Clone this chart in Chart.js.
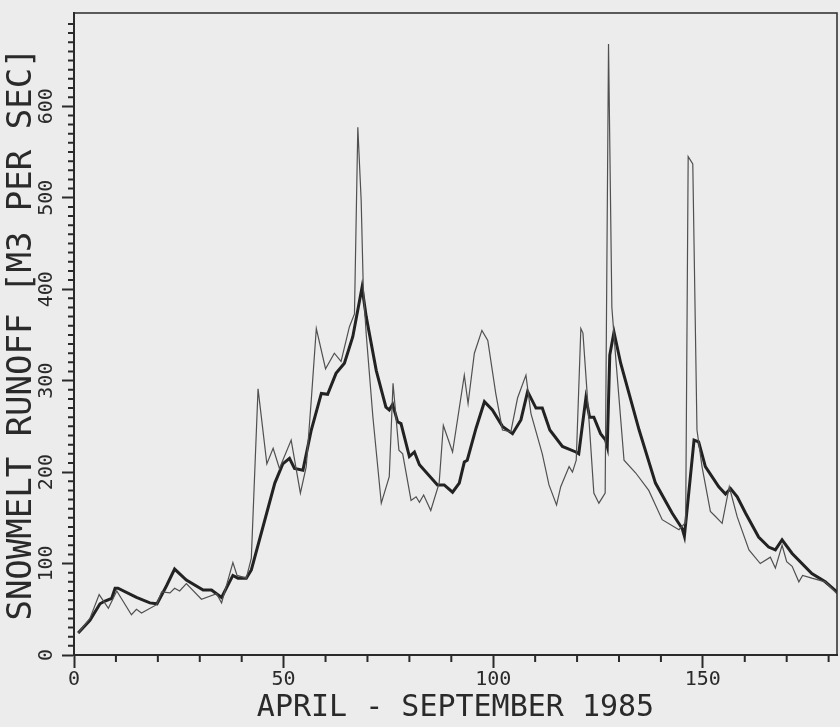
<!DOCTYPE html>
<html>
<head>
<meta charset="utf-8">
<title>Snowmelt runoff 1985</title>
<script src="https://cdn.jsdelivr.net/npm/chart.js@4.4.1/dist/chart.umd.min.js"></script>
<style>
  html, body { margin: 0; padding: 0; background: #ececec; }
  canvas { display: block; }
</style>
</head>
<body>
<canvas id="runoff" width="840" height="727"></canvas>
<script>
// thin line: day of season / runoff (m3/s)
const thinDays = [1, 3.8, 6.0, 8.2, 10.2, 13.7, 14.9, 16.1, 19.7, 20.9, 22.9, 24.0, 25.2, 26.8, 30.4, 34.0, 35.2, 37.9, 38.9, 41.1,
  42.3, 43.9, 46.0, 47.5, 49.0, 51.8, 54.0, 55.4, 56.6, 57.8, 60.0, 62.1, 63.7, 65.7, 66.9, 67.7, 68.5, 69.0, 69.7, 71.3,
  73.3, 75.2, 76.1, 77.5, 78.4, 80.4, 81.6, 82.4, 83.4, 85.1, 87.1, 88.1, 90.3, 93.1, 94.0, 95.5, 97.3, 98.7, 100.6, 102.2,
  104.2, 105.8, 107.8, 109.0, 111.7, 113.3, 115.1, 116.1, 118.1, 118.9, 119.8, 120.9, 121.4, 122.9, 124.0, 125.2, 126.7, 127.5, 128.3, 129.2,
  131.2, 134.0, 137.1, 140.3, 144.3, 145.9, 146.5, 147.6, 148.6, 149.8, 151.8, 152.9, 154.6, 156.3, 158.2, 161.0, 163.7, 166.1, 167.3, 168.9,
  170.0, 171.3, 172.9, 173.8, 176.0, 179.2, 182];
const thinFlow = [24, 40, 66, 51, 70, 44, 50, 46, 55, 69, 68, 73, 70, 78, 61, 67, 57, 101, 87, 84,
  106, 291, 209, 226, 204, 235, 177, 206, 279, 357, 313, 330, 321, 359, 373, 577, 497, 402, 351, 260,
  166, 195, 297, 224, 220, 169, 173, 167, 175, 158, 188, 251, 222, 306, 275, 330, 355, 344, 286, 246,
  244, 281, 306, 264, 220, 186, 164, 184, 206, 200, 213, 357, 352, 253, 177, 166, 177, 668, 380, 326,
  213, 199, 180, 148, 137, 145, 545, 537, 246, 206, 157, 152, 144, 184, 151, 115, 100, 107, 95, 120,
  102, 97, 80, 87, 84, 80, 67];

// thick line
const thickDays = [1, 3.8, 6.2, 7.4, 9.0, 9.8, 10.5, 14.9, 18.1, 19.8, 22.1, 24.0, 26.8, 30.8, 32.8, 35.2, 37.9, 39.1, 41.1, 42.3,
  47.9, 49.8, 51.4, 52.6, 54.6, 56.6, 59.0, 60.5, 62.5, 64.5, 66.5, 68.7, 69.7, 72.1, 74.4, 75.2, 76.0, 77.2, 78.0, 80.0,
  81.2, 82.4, 86.7, 88.3, 90.3, 91.9, 93.1, 93.8, 95.9, 97.9, 99.8, 102.2, 104.6, 106.6, 108.2, 110.2, 111.7, 113.5, 116.5, 119.7,
  120.4, 122.1, 123.0, 124.0, 125.6, 126.8, 127.2, 127.8, 128.8, 130.4, 134.8, 138.7, 142.7, 145.1, 145.6, 146.7, 147.9, 149.0, 150.6, 153.8,
  155.4, 156.6, 158.2, 160.2, 163.3, 165.7, 167.3, 168.9, 171.3, 176.0, 179.2, 182];
const thickFlow = [24, 38, 56, 59, 62, 73, 73, 63, 57, 56, 76, 94, 82, 71, 71, 63, 87, 84, 84, 93,
  188, 209, 215, 204, 202, 246, 286, 285, 308, 319, 348, 402, 370, 311, 271, 268, 274, 255, 253, 217,
  222, 208, 186, 186, 178, 188, 211, 213, 248, 277, 268, 250, 242, 257, 288, 270, 270, 246, 228, 222,
  220, 281, 260, 260, 242, 235, 228, 328, 353, 319, 246, 188, 155, 138, 130, 180, 235, 233, 206, 184,
  176, 182, 173, 155, 129, 118, 115, 126, 111, 89, 80, 69];

const xTicks = [0, 50, 100, 150];
const yTicks = [0, 100, 200, 300, 400, 500, 600];
const xTitle = "APRIL - SEPTEMBER 1985";
const yTitle = "SNOWMELT RUNOFF [M3 PER SEC]";

const ink = "#2a2a2a";
const mono = "'DejaVu Sans Mono', monospace";

// petites graduations tous les 10, étiquettes Y tournées, cadre haut/droite
const axisExtras = {
  id: "axisExtras",
  afterDraw(chart) {
    const ctx = chart.ctx;
    const xs = chart.scales.x, ys = chart.scales.y;
    const a = chart.chartArea;
    ctx.save();
    ctx.strokeStyle = ink;
    ctx.lineWidth = 2;
    ctx.beginPath();
    for (let v = 10; v <= xs.max; v += 10) {
      if (v % 50 === 0) continue;
      const px = xs.getPixelForValue(v);
      ctx.moveTo(px, a.bottom);
      ctx.lineTo(px, a.bottom + 7);
    }
    for (let v = 10; v <= ys.max; v += 10) {
      if (v % 100 === 0) continue;
      const py = ys.getPixelForValue(v);
      ctx.moveTo(a.left, py);
      ctx.lineTo(a.left - 6, py);
    }
    ctx.stroke();
    ctx.lineWidth = 1.5;
    ctx.beginPath();
    ctx.moveTo(a.left, a.top);
    ctx.lineTo(a.right, a.top);
    ctx.lineTo(a.right, a.bottom);
    ctx.stroke();

    // étiquettes de l'axe Y, lues de bas en haut
    ctx.fillStyle = ink;
    ctx.font = "20px " + mono;
    ctx.textAlign = "center";
    ctx.textBaseline = "middle";
    ys.ticks.forEach(t => {
      if (!yTicks.includes(t.value)) return;
      ctx.save();
      ctx.translate(a.left - 27, ys.getPixelForValue(t.value));
      ctx.rotate(-Math.PI / 2);
      ctx.fillText(String(t.value), 0, 0);
      ctx.restore();
    });
    ctx.restore();
  }
};

const toPoints = (days, flow) => days.map((d, i) => ({ x: d, y: flow[i] }));

new Chart(document.getElementById("runoff"), {
  type: "line",
  data: {
    datasets: [
      {
        label: "thin",
        data: toPoints(thinDays, thinFlow),
        borderColor: "#505050",
        borderWidth: 1.2,
        pointRadius: 0,
        tension: 0
      },
      {
        label: "thick",
        data: toPoints(thickDays, thickFlow),
        borderColor: "#222222",
        borderWidth: 3,
        pointRadius: 0,
        tension: 0
      }
    ]
  },
  options: {
    responsive: false,
    animation: false,
    layout: { padding: { top: 13, right: 3, left: 0, bottom: 0 } },
    plugins: {
      legend: { display: false },
      tooltip: { enabled: false }
    },
    scales: {
      x: {
        type: "linear",
        min: 0,
        max: 182,
        afterBuildTicks: s => { s.ticks = xTicks.map(v => ({ value: v })); },
        afterFit: s => { s.height = 72; },
        border: { color: ink, width: 2 },
        grid: { drawOnChartArea: false, tickLength: 13, tickColor: ink, tickWidth: 2 },
        ticks: { color: ink, padding: 0, maxRotation: 0, autoSkip: false, font: { family: mono, size: 20 } },
        title: { display: true, text: xTitle, color: ink, padding: { top: 0, bottom: 1 }, font: { family: mono, size: 30 } }
      },
      y: {
        min: 0,
        max: 702,
        afterBuildTicks: s => { s.ticks = yTicks.map(v => ({ value: v })); },
        afterFit: s => { s.width = 74; },
        border: { color: ink, width: 2 },
        grid: { drawOnChartArea: false, tickLength: 12, tickColor: ink, tickWidth: 2 },
        ticks: { display: false },
        title: { display: true, text: yTitle, color: ink, padding: { top: 2, bottom: 0 }, font: { family: mono, size: 34 } }
      }
    }
  },
  plugins: [axisExtras]
});
</script>
</body>
</html>
